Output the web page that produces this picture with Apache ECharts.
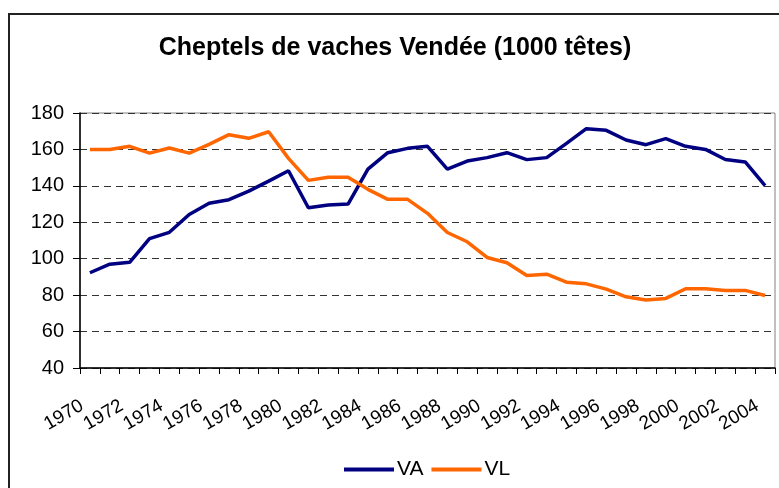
<!DOCTYPE html>
<html>
<head>
<meta charset="utf-8">
<script src="https://cdn.jsdelivr.net/npm/echarts@6/dist/echarts.min.js"></script>
<style>
  html, body { margin: 0; padding: 0; background: #fff; }
  #chart { width: 779px; height: 488px; }
</style>
</head>
<body>
<div id="chart"></div>
<script>
  // years 1970 - 2004
  const years = ['1970', '1971', '1972', '1973', '1974', '1975', '1976', '1977', '1978', '1979',
    '1980', '1981', '1982', '1983', '1984', '1985', '1986', '1987', '1988', '1989',
    '1990', '1991', '1992', '1993', '1994', '1995', '1996', '1997', '1998', '1999',
    '2000', '2001', '2002', '2003', '2004']

  // vaches allaitantes
  const va = [92.3, 97, 98, 111, 114.5, 124.3, 130.4, 132.4, 137.1, 142.6,
    148.3, 128, 129.5, 130, 149.2, 158.2, 160.6, 161.7, 149.2, 153.6,
    155.5, 158.2, 154.4, 155.5, 163.3, 171.4, 170.5, 165.2, 162.6, 165.9,
    161.7, 160, 154.5, 153.1, 140.1]

  // vaches laitières
  const vl = [160, 160, 161.7, 158, 160.8, 158, 162.8, 168.1, 166.1, 169.7,
    155.1, 143, 144.7, 144.7, 138.1, 132.6, 132.6, 124.9, 114.4, 109.3,
    100.7, 97.8, 90.8, 91.5, 87.1, 86.2, 83.3, 79.1, 77.3, 78.2,
    83.5, 83.5, 82.6, 82.6, 79.8]

  const chart = echarts.init(document.getElementById('chart'))
  const font = 'Liberation Sans, Arial, sans-serif'

  chart.setOption({
    animation: false,
    backgroundColor: '#fff',
    graphic: [{
      type: 'rect',
      shape: { x: 9, y: 14, width: 820, height: 520 },
      style: { fill: 'none', stroke: '#222', lineWidth: 2 },
      silent: true
    }],
    title: {
      text: 'Cheptels de vaches Vendée (1000 têtes)',
      left: 390,
      top: 31,
      textAlign: 'center',
      textStyle: { fontFamily: font, fontSize: 25, fontWeight: 'bold', color: '#000' }
    },
    legend: {
      bottom: 3,
      left: 339,
      itemWidth: 50,
      itemHeight: 4,
      itemGap: 8,
      icon: 'rect',
      textStyle: { fontFamily: font, fontSize: 21, color: '#000', padding: [0, 0, 0, -2] },
      data: ['VA', 'VL']
    },
    grid: {
      left: 80,
      right: 4,
      top: 113,
      bottom: 120,
      show: true,
      borderColor: '#808080',
      borderWidth: 1
    },
    xAxis: {
      type: 'category',
      data: years,
      boundaryGap: true,
      axisLine: { lineStyle: { color: '#000', width: 1.5 } },
      axisTick: { show: true, interval: 0, length: 6, lineStyle: { color: '#000' } },
      axisLabel: {
        interval: 1,
        rotate: 30,
        margin: 32,
        padding: [0, 9, 0, 0],
        color: '#000',
        fontFamily: font,
        fontSize: 19
      },
      splitLine: { show: false }
    },
    yAxis: {
      type: 'value',
      min: 40,
      max: 180,
      interval: 20,
      axisLine: { show: true, lineStyle: { color: '#000', width: 1.5 } },
      axisTick: { show: true, length: 7, lineStyle: { color: '#000' } },
      axisLabel: { color: '#000', fontFamily: font, fontSize: 20, margin: 16 },
      splitLine: { show: true, lineStyle: { color: '#333', type: [7, 5], width: 1 } }
    },
    series: [
      {
        name: 'VA',
        type: 'line',
        data: va,
        symbol: 'none',
        color: '#000080',
        lineStyle: { width: 3.5, color: '#000080' }
      },
      {
        name: 'VL',
        type: 'line',
        data: vl,
        symbol: 'none',
        color: '#ff6600',
        lineStyle: { width: 3.5, color: '#ff6600' }
      }
    ]
  })
</script>
</body>
</html>
